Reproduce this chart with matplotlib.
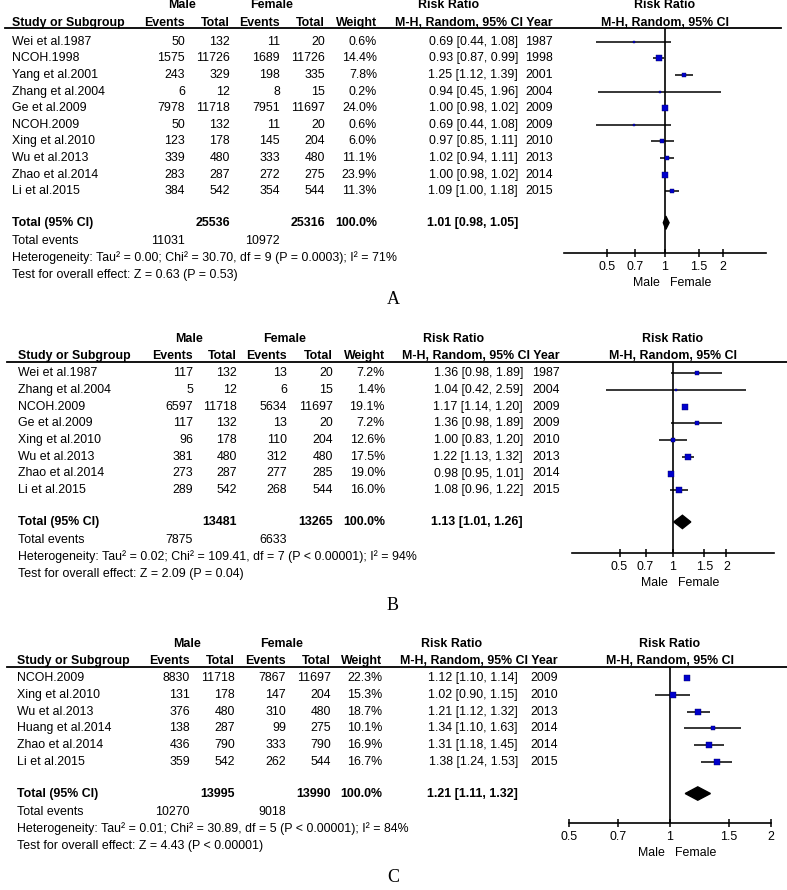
import numpy as np
import matplotlib
matplotlib.use("Agg")
import matplotlib.pyplot as plt
from matplotlib.patches import Polygon

plt.rcParams['font.family'] = ['Liberation Sans', 'DejaVu Sans']
FS = 8.9

# ---- panel A data ----
a_study = ["Wei et al.1987", "NCOH.1998", "Yang et al.2001", "Zhang et al.2004", "Ge et al.2009",
           "NCOH.2009", "Xing et al.2010", "Wu et al.2013", "Zhao et al.2014", "Li et al.2015"]
a_m_ev = [50, 1575, 243, 6, 7978, 50, 123, 339, 283, 384]
a_m_tot = [132, 11726, 329, 12, 11718, 132, 178, 480, 287, 542]
a_f_ev = [11, 1689, 198, 8, 7951, 11, 145, 333, 272, 354]
a_f_tot = [20, 11726, 335, 15, 11697, 20, 204, 480, 275, 544]
a_weight = [0.6, 14.4, 7.8, 0.2, 24.0, 0.6, 6.0, 11.1, 23.9, 11.3]
a_rr = [0.69, 0.93, 1.25, 0.94, 1.00, 0.69, 0.97, 1.02, 1.00, 1.09]
a_lo = [0.44, 0.87, 1.12, 0.45, 0.98, 0.44, 0.85, 0.94, 0.98, 1.00]
a_hi = [1.08, 0.99, 1.39, 1.96, 1.02, 1.08, 1.11, 1.11, 1.02, 1.18]
a_year = [1987, 1998, 2001, 2004, 2009, 2009, 2010, 2013, 2014, 2015]
a_total = [25536, 25316]
a_events = [11031, 10972]
a_pooled = [1.01, 0.98, 1.05]
a_het = "Heterogeneity: Tau² = 0.00; Chi² = 30.70, df = 9 (P = 0.0003); I² = 71%"
a_test = "Test for overall effect: Z = 0.63 (P = 0.53)"

# ---- panel B data ----
b_study = ["Wei et al.1987", "Zhang et al.2004", "NCOH.2009", "Ge et al.2009", "Xing et al.2010",
           "Wu et al.2013", "Zhao et al.2014", "Li et al.2015"]
b_m_ev = [117, 5, 6597, 117, 96, 381, 273, 289]
b_m_tot = [132, 12, 11718, 132, 178, 480, 287, 542]
b_f_ev = [13, 6, 5634, 13, 110, 312, 277, 268]
b_f_tot = [20, 15, 11697, 20, 204, 480, 285, 544]
b_weight = [7.2, 1.4, 19.1, 7.2, 12.6, 17.5, 19.0, 16.0]
b_rr = [1.36, 1.04, 1.17, 1.36, 1.00, 1.22, 0.98, 1.08]
b_lo = [0.98, 0.42, 1.14, 0.98, 0.83, 1.13, 0.95, 0.96]
b_hi = [1.89, 2.59, 1.20, 1.89, 1.20, 1.32, 1.01, 1.22]
b_year = [1987, 2004, 2009, 2009, 2010, 2013, 2014, 2015]
b_total = [13481, 13265]
b_events = [7875, 6633]
b_pooled = [1.13, 1.01, 1.26]
b_het = "Heterogeneity: Tau² = 0.02; Chi² = 109.41, df = 7 (P < 0.00001); I² = 94%"
b_test = "Test for overall effect: Z = 2.09 (P = 0.04)"

# ---- panel C data ----
c_study = ["NCOH.2009", "Xing et al.2010", "Wu et al.2013", "Huang et al.2014", "Zhao et al.2014",
           "Li et al.2015"]
c_m_ev = [8830, 131, 376, 138, 436, 359]
c_m_tot = [11718, 178, 480, 287, 790, 542]
c_f_ev = [7867, 147, 310, 99, 333, 262]
c_f_tot = [11697, 204, 480, 275, 790, 544]
c_weight = [22.3, 15.3, 18.7, 10.1, 16.9, 16.7]
c_rr = [1.12, 1.02, 1.21, 1.34, 1.31, 1.38]
c_lo = [1.10, 0.90, 1.12, 1.10, 1.18, 1.24]
c_hi = [1.14, 1.15, 1.32, 1.63, 1.45, 1.53]
c_year = [2009, 2010, 2013, 2014, 2014, 2015]
c_total = [13995, 13990]
c_events = [10270, 9018]
c_pooled = [1.21, 1.11, 1.32]
c_het = "Heterogeneity: Tau² = 0.01; Chi² = 30.89, df = 5 (P < 0.00001); I² = 84%"
c_test = "Test for overall effect: Z = 4.43 (P < 0.00001)"

tick_vals = [0.5, 0.7, 1, 1.5, 2]
tick_labels = ["0.5", "0.7", "1", "1.5", "2"]

W, H = 787, 890
fig = plt.figure(figsize=(W / 100, H / 100), dpi=100)
bg = fig.add_axes([0, 0, 1, 1])
bg.set_xlim(0, W)
bg.set_ylim(H, 0)
bg.axis('off')


def draw_panel(d, L):
    n = len(d['study'])
    top, r0, sp = L['top'], L['row0'], L['sp']
    cols = L['cols']
    x0 = L['study_x']
    # rule under the headers
    bg.plot([L['rule'][0], L['rule'][1]], [top, top], color='k', lw=1.3)
    # headers
    hy = top - 5.5
    gy = top - 23
    b = dict(fontsize=FS, fontweight='bold', va='center')
    bg.text(L['male_c'], gy, "Male", ha='center', **b)
    bg.text(L['female_c'], gy, "Female", ha='center', **b)
    bg.text(L['rr_c'], gy, "Risk Ratio", ha='center', **b)
    bg.text(L['fc'], gy, "Risk Ratio", ha='center', **b)
    bg.text(x0, hy, "Study or Subgroup", ha='left', **b)
    for x, s in zip(cols, ["Events", "Total", "Events", "Total", "Weight"]):
        bg.text(x, hy, s, ha='right', **b)
    bg.text(L['year_r'], hy, "M-H, Random, 95% CI Year", ha='right', **b)
    bg.text(L['fc'], hy, "M-H, Random, 95% CI", ha='center', **b)
    # study rows
    t = dict(fontsize=FS, va='center')
    for i in range(n):
        y = r0 + i * sp
        bg.text(x0, y, d['study'][i], ha='left', **t)
        vals = [d['m_ev'][i], d['m_tot'][i], d['f_ev'][i], d['f_tot'][i]]
        for x, v in zip(cols[:4], vals):
            bg.text(x, y, str(v), ha='right', **t)
        bg.text(cols[4], y, f"{d['weight'][i]:.1f}%", ha='right', **t)
        bg.text(L['ci_r'], y, f"{d['rr'][i]:.2f} [{d['lo'][i]:.2f}, {d['hi'][i]:.2f}]", ha='right', **t)
        bg.text(L['year_r'], y, str(d['year'][i]), ha='right', **t)
    # total rows
    ty = r0 + (n + 0.9) * sp
    bg.text(x0, ty, "Total (95% CI)", ha='left', **b)
    bg.text(cols[1], ty, str(d['total'][0]), ha='right', **b)
    bg.text(cols[3], ty, str(d['total'][1]), ha='right', **b)
    bg.text(cols[4], ty, "100.0%", ha='right', **b)
    p = d['pooled']
    bg.text(L['ci_r'], ty, f"{p[0]:.2f} [{p[1]:.2f}, {p[2]:.2f}]", ha='right', **b)
    bg.text(x0, ty + 18, "Total events", ha='left', **t)
    bg.text(cols[0], ty + 18, str(d['events'][0]), ha='right', **t)
    bg.text(cols[2], ty + 18, str(d['events'][1]), ha='right', **t)
    bg.text(x0, ty + 35, d['het'], ha='left', **t)
    bg.text(x0, ty + 52, d['test'], ha='left', **t)
    bg.text(393, L['letter_y'], L['letter'], ha='center', va='center',
            fontsize=13, family=['Liberation Serif', 'DejaVu Serif'])

    # forest plot
    ay = L['axis_y']
    fw = 202
    ax = fig.add_axes([(L['fc'] - fw / 2) / W, 1 - ay / H, fw / W, (ay - top) / H])
    ax.set_xscale('log')
    ax.set_xlim(np.exp(-L['lnr']), np.exp(L['lnr']))
    ax.set_ylim((ay - r0) / sp, (top - r0) / sp)
    ax.patch.set_alpha(0)
    for s in ['top', 'left', 'right']:
        ax.spines[s].set_visible(False)
    ax.spines['bottom'].set_linewidth(1.2)
    ax.set_yticks([])
    ax.set_xticks(tick_vals)
    ax.set_xticklabels(tick_labels)
    ax.xaxis.set_minor_locator(matplotlib.ticker.NullLocator())
    ax.tick_params(axis='x', direction='inout', length=6, width=1.1, labelsize=FS, pad=2.5)
    ax.axvline(1, color='k', lw=1.2)
    rows = np.arange(n)
    ax.hlines(rows, d['lo'], d['hi'], color='k', lw=1.1)
    w = np.array(d['weight'])
    side = 1.8 + 4.4 * np.sqrt(w / 24.0)
    for i in range(n):
        ax.plot(d['rr'][i], rows[i], marker='s', ms=side[i] * 0.72, color='#0000cc',
                mec='#000066', mew=0.3, ls='none')
    yt = n + 0.9
    h = 0.4
    ax.add_patch(Polygon([(p[1], yt), (p[0], yt - h), (p[2], yt), (p[0], yt + h)],
                         closed=True, color='k'))
    ax.annotate("Male", xy=(1, 0), xycoords=('data', 'axes fraction'), xytext=(-3.5, -21.5),
                textcoords='offset points', ha='right', va='center', fontsize=FS)
    ax.annotate("Female", xy=(1, 0), xycoords=('data', 'axes fraction'), xytext=(3.5, -21.5),
                textcoords='offset points', ha='left', va='center', fontsize=FS)


A = dict(study=a_study, m_ev=a_m_ev, m_tot=a_m_tot, f_ev=a_f_ev, f_tot=a_f_tot, weight=a_weight,
         rr=a_rr, lo=a_lo, hi=a_hi, year=a_year, total=a_total, events=a_events,
         pooled=a_pooled, het=a_het, test=a_test)
B = dict(study=b_study, m_ev=b_m_ev, m_tot=b_m_tot, f_ev=b_f_ev, f_tot=b_f_tot, weight=b_weight,
         rr=b_rr, lo=b_lo, hi=b_hi, year=b_year, total=b_total, events=b_events,
         pooled=b_pooled, het=b_het, test=b_test)
C = dict(study=c_study, m_ev=c_m_ev, m_tot=c_m_tot, f_ev=c_f_ev, f_tot=c_f_tot, weight=c_weight,
         rr=c_rr, lo=c_lo, hi=c_hi, year=c_year, total=c_total, events=c_events,
         pooled=c_pooled, het=c_het, test=c_test)

draw_panel(A, dict(top=28.3, row0=41.8, sp=16.6, study_x=12, cols=[185, 230, 280, 325, 377],
                   ci_r=518, year_r=553, male_c=182, female_c=272, rr_c=449, fc=665,
                   lnr=1.204, axis_y=253, rule=(5, 781), letter="A", letter_y=299))
draw_panel(B, dict(top=361.7, row0=373.3, sp=16.7, study_x=18, cols=[193, 237, 287, 333, 385],
                   ci_r=523, year_r=560, male_c=189, female_c=285, rr_c=454, fc=673,
                   lnr=1.31, axis_y=553, rule=(7, 787), letter="B", letter_y=606))
draw_panel(C, dict(top=666.7, row0=678.3, sp=16.7, study_x=17, cols=[190, 235, 286, 331, 382],
                   ci_r=518, year_r=558, male_c=187, female_c=282, rr_c=452, fc=670,
                   lnr=np.log(2), axis_y=823, rule=(7, 787), letter="C", letter_y=877))

fig.savefig("out.png", dpi=100)
